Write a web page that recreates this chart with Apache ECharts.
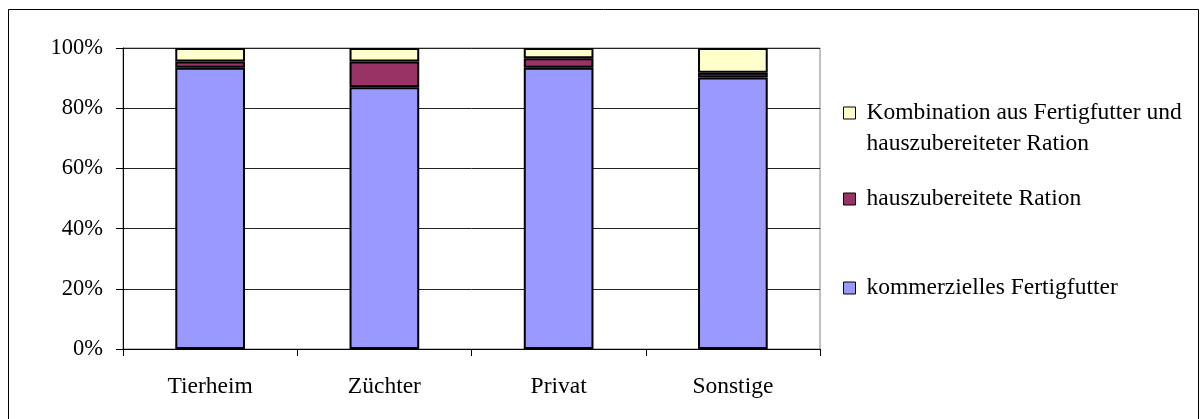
<!DOCTYPE html>
<html>
<head>
<meta charset="utf-8">
<script src="https://cdn.jsdelivr.net/npm/echarts@6/dist/echarts.min.js"></script>
<style>
  html, body { margin: 0; padding: 0; background: #fff; }
  #chart { width: 1202px; height: 419px; }
</style>
</head>
<body>
<div id="chart"></div>
<script>
// Herkunft der Tiere
const categories = ['Tierheim', 'Züchter', 'Privat', 'Sonstige'];

// Anteile je Fütterungsart (in %)
const kommerziell = [93.4, 87.0, 93.4, 90.2];
const hausgemacht = [2.1, 8.5, 3.2, 1.6];
const kombination = [4.5, 4.5, 3.4, 8.2];

const yTicks = { min: 0, max: 100, interval: 20 };

const seriesNames = {
  kommerziell: 'kommerzielles Fertigfutter',
  hausgemacht: 'hauszubereitete Ration',
  kombination: 'Kombination aus Fertigfutter und hauszubereiteter Ration'
};

const FONT = 'Liberation Serif';
const LINE = 30.5;

const chart = echarts.init(document.getElementById('chart'), null, { renderer: 'canvas' });

const barStyle = (color) => ({ color: color, borderColor: '#000', borderWidth: 2 });

const legendBase = {
  orient: 'vertical',
  left: 843,
  padding: 0,
  itemWidth: 12,
  itemHeight: 12,
  itemGap: 0,
  selectedMode: false,
  icon: 'rect',
  itemStyle: { borderColor: '#000', borderWidth: 1 },
  textStyle: { fontFamily: FONT, fontSize: 23.5, color: '#000', lineHeight: LINE, padding: [0, 0, 0, 6] }
};

chart.setOption({
  animation: false,
  backgroundColor: '#fff',
  textStyle: { fontFamily: FONT },
  graphic: [{
    type: 'rect',
    shape: { x: 8.5, y: 9.5, width: 1190, height: 430 },
    style: { fill: 'none', stroke: '#000', lineWidth: 1 },
    silent: true
  }],
  grid: {
    left: 123, top: 48, right: 382, bottom: 70,
    show: true, borderColor: '#808080', borderWidth: 1, backgroundColor: 'transparent'
  },
  legend: [
    Object.assign({}, legendBase, {
      top: 113 - 1.5 * LINE,
      data: [seriesNames.kombination],
      // a blank first line keeps the marker level with the first text line
      formatter: () => ' \nKombination aus Fertigfutter und\nhauszubereiteter Ration'
    }),
    Object.assign({}, legendBase, { top: 199 - LINE / 2, data: [seriesNames.hausgemacht] }),
    Object.assign({}, legendBase, { top: 288 - LINE / 2, data: [seriesNames.kommerziell] })
  ],
  xAxis: {
    type: 'category',
    data: categories,
    boundaryGap: true,
    axisLine: { lineStyle: { color: '#000', width: 1 } },
    axisTick: { show: true, length: 7, inside: false, alignWithLabel: false, lineStyle: { color: '#000' } },
    axisLabel: { color: '#000', fontFamily: FONT, fontSize: 23.5, margin: 26 },
    splitLine: { show: false }
  },
  yAxis: {
    type: 'value',
    min: yTicks.min,
    max: yTicks.max,
    interval: yTicks.interval,
    axisLine: { show: true, lineStyle: { color: '#000', width: 1 } },
    axisTick: { show: true, length: 7, lineStyle: { color: '#000' } },
    axisLabel: { color: '#000', fontFamily: FONT, fontSize: 22.5, margin: 20, formatter: '{value}%' },
    splitLine: { show: true, lineStyle: { color: '#222', width: 1 } }
  },
  series: [
    {
      name: seriesNames.kommerziell, type: 'bar', stack: 'gesamt', barWidth: '40%',
      data: kommerziell, itemStyle: barStyle('#9999FF')
    },
    {
      name: seriesNames.hausgemacht, type: 'bar', stack: 'gesamt', barWidth: '40%',
      data: hausgemacht, itemStyle: barStyle('#993366')
    },
    {
      name: seriesNames.kombination, type: 'bar', stack: 'gesamt', barWidth: '40%',
      data: kombination, itemStyle: barStyle('#FFFFCC')
    }
  ]
});
</script>
</body>
</html>
